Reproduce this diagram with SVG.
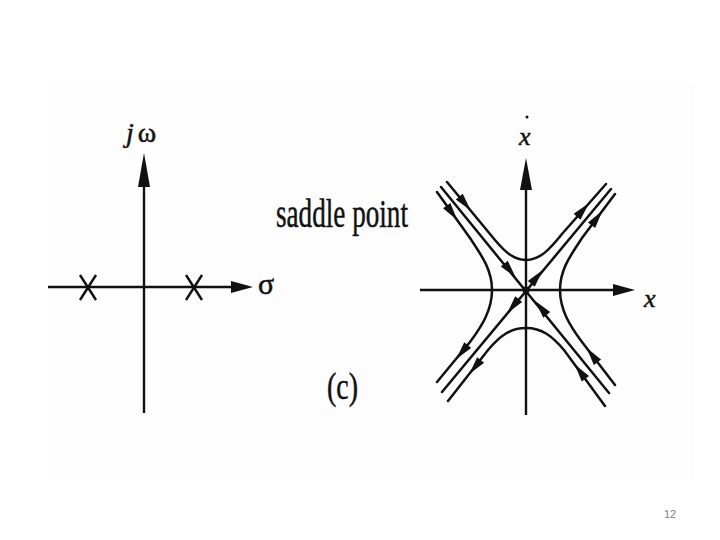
<svg xmlns="http://www.w3.org/2000/svg" width="720" height="540" viewBox="0 0 720 540">
<style>
.ax{stroke:#111;stroke-width:2.4;fill:none}
.cv{stroke:#111;stroke-width:2.5;fill:none;stroke-linecap:round}
.head{fill:#111}
.serif{font-family:"Liberation Serif","Times New Roman",serif;fill:#111;stroke:#111;stroke-width:0.5}
.pg{font-family:"Liberation Sans",Arial,sans-serif;font-size:11px;fill:#808080}
</style>
<defs>
<path id="ah" d="M9,0 L-9,-4.5 L-9,4.5 Z" class="head"/>
</defs>
<rect x="48" y="83" width="647" height="397" fill="#fdfdfd"/>
<g id="s-plane">
<line class="ax" x1="144" y1="413" x2="144" y2="182"/>
<polygon class="head" points="144,153 138,187 150,187"/>
<line class="ax" x1="48" y1="287" x2="236" y2="287" stroke-width="3"/>
<polygon class="head" points="253,287 231,281 231,293"/>
<g class="ax" stroke-width="3">
<line x1="80" y1="275" x2="96" y2="300"/><line x1="96" y1="275" x2="80" y2="300"/>
<line x1="186" y1="275" x2="202" y2="300"/><line x1="202" y1="275" x2="186" y2="300"/>
</g>
<text class="serif" x="126" y="142" font-size="28"><tspan font-style="italic">j</tspan><tspan dx="4">ω</tspan></text>
<text class="serif" x="258" y="294" font-size="30">σ</text>
</g>
<g id="labels">
<text class="serif" x="276" y="227" font-size="41" textLength="132" lengthAdjust="spacingAndGlyphs">saddle point</text>
<text class="serif" x="327" y="399" font-size="37" textLength="31" lengthAdjust="spacingAndGlyphs">(c)</text>
</g>
<g id="phase-axes">
<line class="ax" x1="526" y1="415" x2="526" y2="185"/>
<polygon class="head" points="526,158 520,190 532,190"/>
<line class="ax" x1="420" y1="290" x2="618" y2="290" stroke-width="3"/>
<polygon class="head" points="635,290 613,284 613,296"/>
<text class="serif" x="519" y="145" font-size="26" font-style="italic">x</text>
<circle cx="527" cy="117" r="1.5" fill="#111"/>
<text class="serif" x="644" y="307" font-size="26" font-style="italic">x</text>
</g>
<g id="trajectories">
<line class="cv" x1="441" y1="187" x2="609" y2="393"/>
<line class="cv" x1="611" y1="189" x2="442" y2="392"/>
<path class="cv" d="M447,182 L490,234 C502,249 512,260 526,260 C540,260 550,249 562,234 L606,184"/>
<path class="cv" d="M526,328 C510,328 500,336 488,350 L448,401 M526,328 C542,328 552,336 564,350 L605,406"/>
<path class="cv" d="M437,192 L470,238 C482,256 492,270 492,290 C492,310 482,326 470,342 L437,382"/>
<path class="cv" d="M615,194 L582,238 C570,256 560,270 560,290 C560,310 570,326 582,342 L615,385"/>
<circle cx="526" cy="290" r="3.5" fill="#111"/>
</g>
<g id="arrowheads">
<use href="#ah" transform="translate(510,270.5) rotate(50.5)"/>
<use href="#ah" transform="translate(541,308) rotate(230.5)"/>
<use href="#ah" transform="translate(537,277) rotate(-50.5)"/>
<use href="#ah" transform="translate(513,306) rotate(129.5)"/>
<use href="#ah" transform="translate(465,203.5) rotate(50.5)"/>
<use href="#ah" transform="translate(452,213) rotate(54)"/>
<use href="#ah" transform="translate(583,210) rotate(-48.7)"/>
<use href="#ah" transform="translate(597,218) rotate(-53)"/>
<use href="#ah" transform="translate(462,352) rotate(129.5)"/>
<use href="#ah" transform="translate(475,367) rotate(128.7)"/>
<use href="#ah" transform="translate(592,355) rotate(232.5)"/>
<use href="#ah" transform="translate(580,371.5) rotate(233.3)"/>
</g>
<text class="pg" x="664" y="518">12</text>
</svg>
